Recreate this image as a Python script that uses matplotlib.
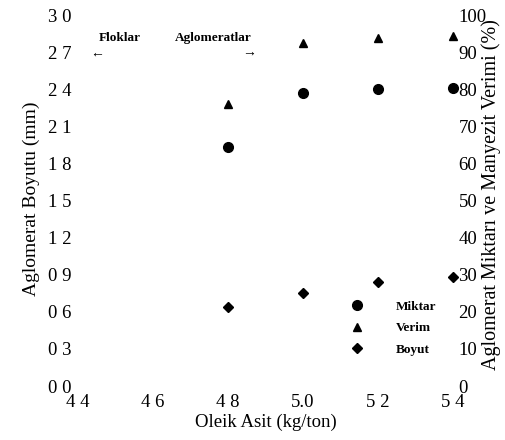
import matplotlib
matplotlib.use("Agg")
import matplotlib.pyplot as plt
from matplotlib.lines import Line2D

plt.rcParams['font.family'] = ['Liberation Serif', 'DejaVu Serif']

# Data
oleik_asit = [4.8, 5.0, 5.2, 5.4]
miktar = [64.4, 79.1, 80.0, 80.2]        # % (right axis)
verim = [76.0, 92.5, 93.9, 94.3]         # % (right axis)
boyut = [0.64, 0.75, 0.84, 0.88]         # mm (left axis)

x_ticks = [4.4, 4.6, 4.8, 5.0, 5.2, 5.4]
x_ticklabels = ["4 4", "4 6", "4 8", "5.0", "5 2", "5 4"]
left_ticks = [0.0, 0.3, 0.6, 0.9, 1.2, 1.5, 1.8, 2.1, 2.4, 2.7, 3.0]
left_ticklabels = ["0 0", "0 3", "0 6", "0 9", "1 2", "1 5", "1 8", "2 1", "2 4", "2 7", "3 0"]
right_ticks = [0, 10, 20, 30, 40, 50, 60, 70, 80, 90, 100]
right_ticklabels = [str(v) for v in right_ticks]

fig = plt.figure(figsize=(5.06, 4.40), dpi=100)
ax = fig.add_axes([78/506, 1 - 386/440, (453-78)/506, (386-15)/440])
ax2 = ax.twinx()

ax.set_xlim(4.4, 5.4)
ax.set_ylim(0, 3.0)
ax2.set_ylim(0, 100)

for a in (ax, ax2):
    for s in a.spines.values():
        s.set_visible(False)
    a.patch.set_visible(False)

ax.set_xticks(x_ticks)
ax.set_xticklabels(x_ticklabels)
ax.set_yticks(left_ticks)
ax.set_yticklabels(left_ticklabels)
ax2.set_yticks(right_ticks)
ax2.set_yticklabels(right_ticklabels)

ax.tick_params(axis='x', length=0, pad=5.5, labelsize=13.5)
ax.tick_params(axis='y', length=0, pad=5, labelsize=13.5)
ax2.tick_params(axis='y', length=0, pad=4, labelsize=13.5)

ax2.plot(oleik_asit, miktar, linestyle='none', marker='o', markersize=7,
         color='black', clip_on=False)
ax2.plot(oleik_asit, verim, linestyle='none', marker='^', markersize=6,
         color='black', clip_on=False)
ax.plot(oleik_asit, boyut, linestyle='none', marker='D', markersize=5,
        color='black', clip_on=False)

ax.set_ylabel("Aglomerat Boyutu (mm)", fontsize=14, va='center', ha='center')
ax.yaxis.set_label_coords(-0.124, 0.505)
ax2.set_ylabel("Aglomerat Miktarı ve Manyezit Verimi (%)", fontsize=14.5,
               va='center', ha='center', rotation=90)
ax2.yaxis.set_label_coords(1.103, 0.515)
ax.set_xlabel("Oleik Asit (kg/ton)", fontsize=13.5, va='center', ha='center')
ax.xaxis.set_label_coords(0.50, -0.097)

# Annotations
ax.text(4.512, 2.81, "Floklar", fontsize=9.5, fontweight='bold', ha='center', va='center')
ax.text(4.76, 2.81, "Aglomeratlar", fontsize=9.5, fontweight='bold', ha='center', va='center')
ax.text(4.45, 2.69, "\u2190", fontsize=10, ha='center', va='center')
ax.text(4.857, 2.70, "\u2192", fontsize=10, ha='center', va='center')

handles = [
    Line2D([], [], linestyle='none', marker='o', markersize=7, color='black'),
    Line2D([], [], linestyle='none', marker='^', markersize=6, color='black'),
    Line2D([], [], linestyle='none', marker='D', markersize=5, color='black'),
]
fig.legend(handles, ["Miktar", "Verim", "Boyut"], loc='center left',
           bbox_to_anchor=(344/506, 1 - 328/440), frameon=False,
           handlelength=2.0, handletextpad=1.9,
           labelspacing=0.7, borderpad=0, borderaxespad=0,
           prop={'weight': 'bold', 'size': 9.5})

fig.savefig("out.png", dpi=100)
